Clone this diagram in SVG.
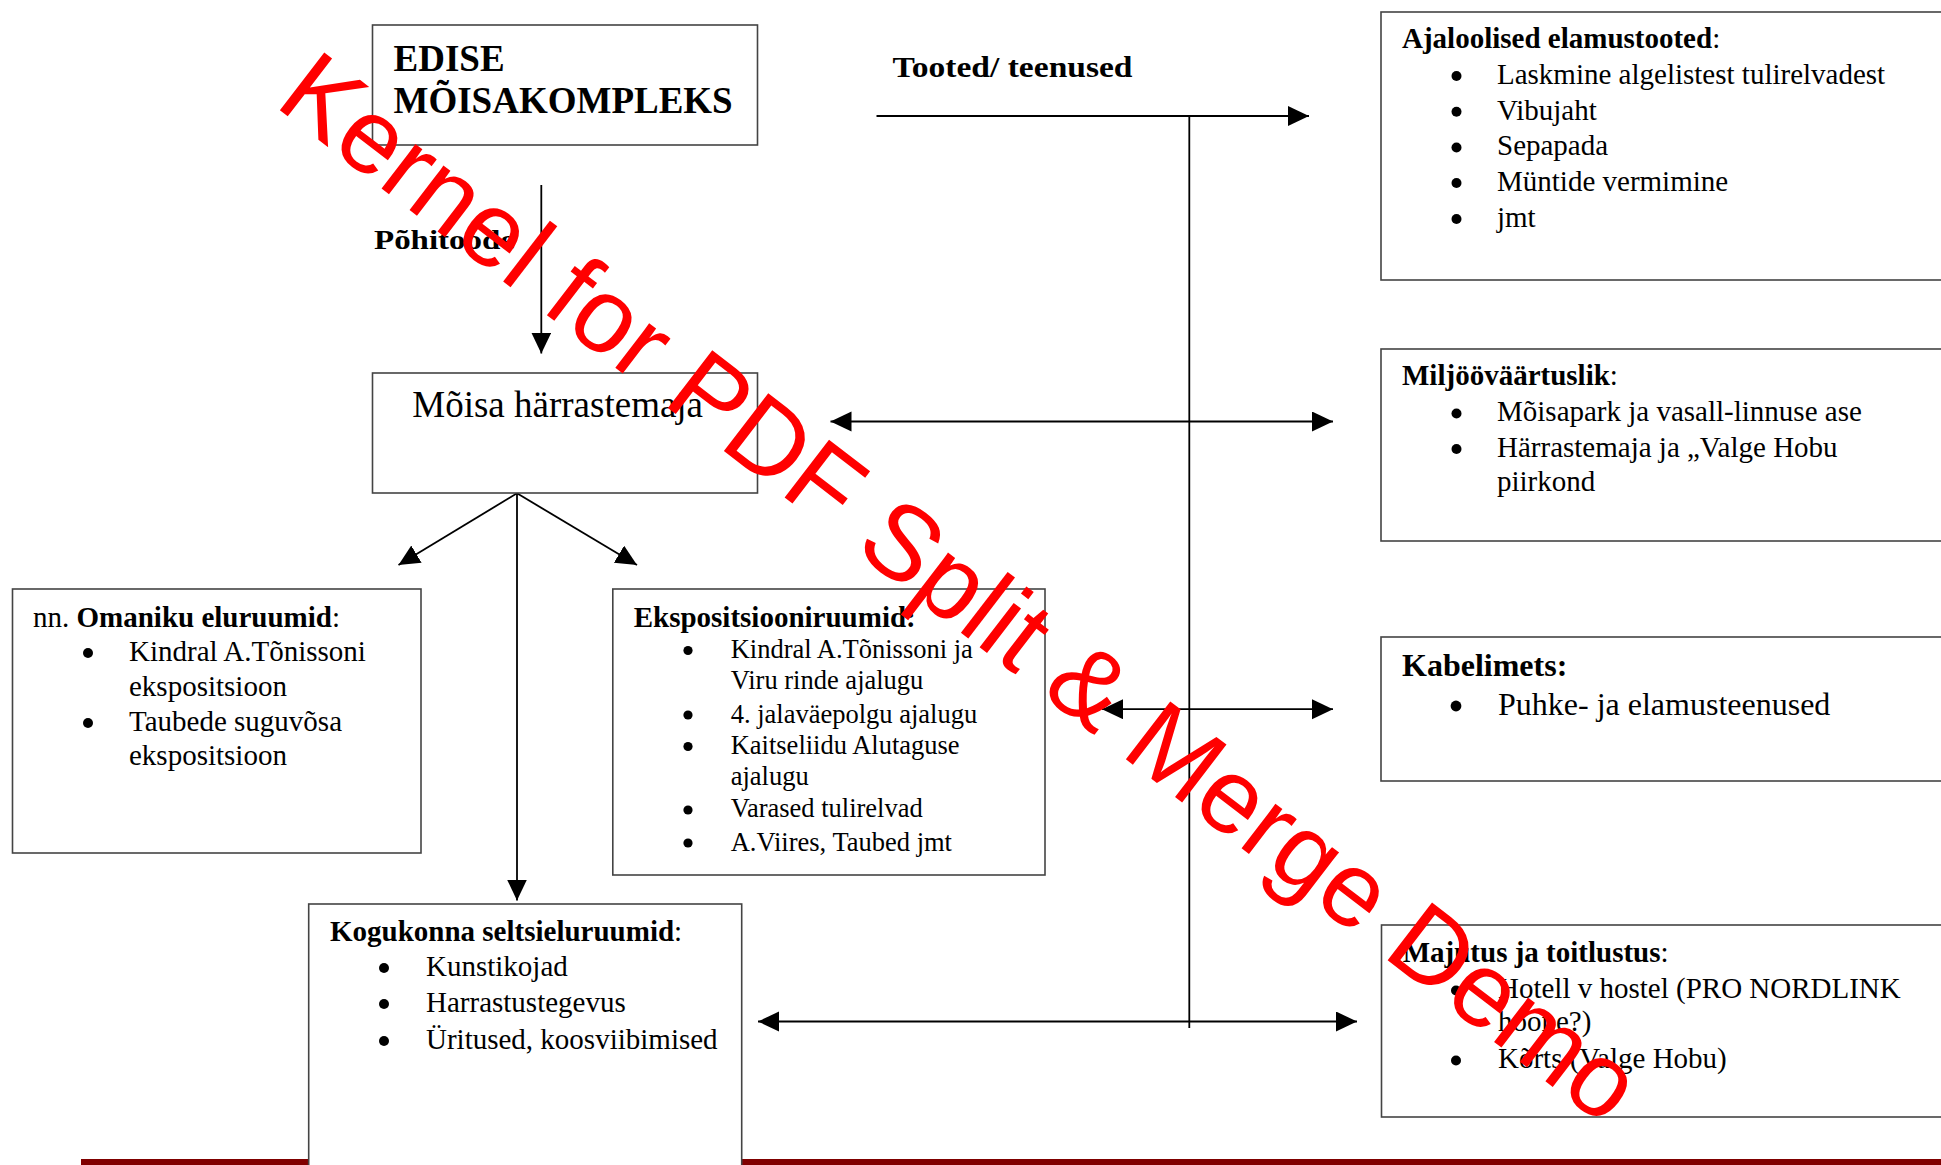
<svg xmlns="http://www.w3.org/2000/svg" width="1941" height="1165" viewBox="0 0 1941 1165">
<style>
.box{fill:#fff;stroke:#444;stroke-width:1.6}
.con{stroke:#000;stroke-width:1.8;fill:none}
.t{font-family:"Liberation Serif","Times New Roman",serif;fill:#000}
.b{font-weight:bold}
.s29{font-size:29px}
.s26{font-size:26.5px}
.s32{font-size:32px}
.bul{fill:#000}
.wm{font-family:"Liberation Sans",Arial,sans-serif;font-size:106px;fill:#ff0000}
</style>
<defs>
<marker id="ah" markerUnits="userSpaceOnUse" markerWidth="22" markerHeight="21" refX="21" refY="10" orient="auto-start-reverse" viewBox="0 0 22 21">
<path d="M0,0 L21,10 L0,20 z" fill="#000"/>
</marker>
</defs>
<rect x="0" y="0" width="1941" height="1165" fill="#fff"/>
<rect id="bottom-rule" x="81" y="1159" width="1860" height="6" fill="#800000"/>

<g id="connectors">
<line class="con" x1="541.3" y1="185" x2="541.3" y2="353.5" marker-end="url(#ah)"/>
<line class="con" x1="517" y1="493.3" x2="517" y2="900.5" marker-end="url(#ah)"/>
<line class="con" x1="517" y1="493.3" x2="398.5" y2="565" marker-end="url(#ah)"/>
<line class="con" x1="517" y1="493.3" x2="637" y2="565" marker-end="url(#ah)"/>
<line class="con" x1="876.5" y1="116" x2="1309" y2="116" marker-end="url(#ah)"/>
<line class="con" x1="1189.3" y1="116" x2="1189.3" y2="1028"/>
<line class="con" x1="830.5" y1="421.5" x2="1333" y2="421.5" marker-start="url(#ah)" marker-end="url(#ah)"/>
<line class="con" x1="1102" y1="709.2" x2="1333" y2="709.2" marker-start="url(#ah)" marker-end="url(#ah)"/>
<line class="con" x1="758" y1="1021.5" x2="1357" y2="1021.5" marker-start="url(#ah)" marker-end="url(#ah)"/>
</g>

<g id="label-tooted">
<text class="t b" x="892.5" y="76.7" font-size="29" textLength="240" lengthAdjust="spacingAndGlyphs">Tooted/ teenused</text>
</g>
<g id="label-pohitoode">
<text class="t b" x="374" y="249" font-size="28" textLength="141" lengthAdjust="spacingAndGlyphs">Põhitoode</text>
</g>

<g id="node-edise">
<rect class="box" x="372.5" y="25" width="385" height="120"/>
<text class="t b" x="393.5" y="70.7" font-size="37">EDISE</text>
<text class="t b" x="393.5" y="113.3" font-size="37">MÕISAKOMPLEKS</text>
</g>

<g id="node-moisa">
<rect class="box" x="372.5" y="373" width="385" height="120"/>
<text class="t" x="412.3" y="417.3" font-size="37">Mõisa härrastemaja</text>
</g>

<g id="node-omaniku">
<rect class="box" x="12.5" y="589" width="408.5" height="264"/>
<text class="t s29" x="33" y="626.5">nn. <tspan class="b">Omaniku eluruumid</tspan>:</text>
<circle class="bul" cx="88" cy="653" r="5"/>
<text class="t s29" x="129" y="661">Kindral A.Tõnissoni</text>
<text class="t s29" x="129" y="695.5">ekspositsioon</text>
<circle class="bul" cx="88" cy="723" r="5"/>
<text class="t s29" x="129" y="731">Taubede suguvõsa</text>
<text class="t s29" x="129" y="765">ekspositsioon</text>
</g>

<g id="node-ekspositsioon">
<rect class="box" x="612.8" y="589" width="432.2" height="286"/>
<text class="t b s29" x="633.7" y="626.5">Ekspositsiooniruumid:</text>
<circle class="bul" cx="688" cy="650.5" r="4.6"/>
<text class="t s26" x="730.7" y="658.3">Kindral A.Tõnissoni ja</text>
<text class="t s26" x="730.7" y="689.3">Viru rinde ajalugu</text>
<circle class="bul" cx="688" cy="715" r="4.6"/>
<text class="t s26" x="730.7" y="722.7">4. jalaväepolgu ajalugu</text>
<circle class="bul" cx="688" cy="746.5" r="4.6"/>
<text class="t s26" x="730.7" y="754">Kaitseliidu Alutaguse</text>
<text class="t s26" x="730.7" y="785">ajalugu</text>
<circle class="bul" cx="688" cy="810" r="4.6"/>
<text class="t s26" x="730.7" y="817.3">Varased tulirelvad</text>
<circle class="bul" cx="688" cy="843" r="4.6"/>
<text class="t s26" x="730.7" y="850.7">A.Viires, Taubed jmt</text>
</g>

<g id="node-kogukonna">
<rect class="box" x="308.7" y="904" width="433" height="300"/>
<text class="t s29" x="330" y="941"><tspan class="b">Kogukonna seltsieluruumid</tspan>:</text>
<circle class="bul" cx="384" cy="968" r="5"/>
<text class="t s29" x="426" y="975.8">Kunstikojad</text>
<circle class="bul" cx="384" cy="1004" r="5"/>
<text class="t s29" x="426" y="1012">Harrastustegevus</text>
<circle class="bul" cx="384" cy="1041" r="5"/>
<text class="t s29" x="426" y="1048.8">Üritused, koosviibimised</text>
</g>

<g id="node-ajaloolised">
<rect class="box" x="1381" y="12" width="620" height="268"/>
<text class="t s29" x="1402" y="48.2"><tspan class="b">Ajaloolised elamustooted</tspan>:</text>
<circle class="bul" cx="1456.5" cy="76" r="5"/>
<text class="t s29" x="1497" y="83.9">Laskmine algelistest tulirelvadest</text>
<circle class="bul" cx="1456.5" cy="111.7" r="5"/>
<text class="t s29" x="1497" y="119.6">Vibujaht</text>
<circle class="bul" cx="1456.5" cy="147.5" r="5"/>
<text class="t s29" x="1497" y="155.4">Sepapada</text>
<circle class="bul" cx="1456.5" cy="183" r="5"/>
<text class="t s29" x="1497" y="191">Müntide vermimine</text>
<circle class="bul" cx="1456.5" cy="219" r="5"/>
<text class="t s29" x="1497" y="226.8">jmt</text>
</g>

<g id="node-miljoo">
<rect class="box" x="1381" y="349" width="620" height="192"/>
<text class="t s29" x="1402" y="385"><tspan class="b">Miljööväärtuslik</tspan>:</text>
<circle class="bul" cx="1456.5" cy="413.5" r="5"/>
<text class="t s29" x="1497" y="421.4">Mõisapark ja vasall-linnuse ase</text>
<circle class="bul" cx="1456.5" cy="449" r="5"/>
<text class="t s29" x="1497" y="457">Härrastemaja ja „Valge Hobu</text>
<text class="t s29" x="1497" y="491">piirkond</text>
</g>

<g id="node-kabelimets">
<rect class="box" x="1381" y="637" width="620" height="144"/>
<text class="t b s32" x="1402" y="676.4">Kabelimets:</text>
<circle class="bul" cx="1456" cy="706" r="5.4"/>
<text class="t s32" x="1498" y="714.6">Puhke- ja elamusteenused</text>
</g>

<g id="node-majutus">
<rect class="box" x="1381.5" y="925" width="620" height="192"/>
<text class="t s29" x="1402.7" y="961.7"><tspan class="b">Majutus ja toitlustus</tspan>:</text>
<circle class="bul" cx="1456" cy="990.5" r="5"/>
<text class="t s29" x="1498" y="998">Hotell v hostel (PRO NORDLINK</text>
<text class="t s29" x="1498" y="1031">hoone?)</text>
<circle class="bul" cx="1456" cy="1060.5" r="5"/>
<text class="t s29" x="1498" y="1068">Kõrts (Valge Hobu)</text>
</g>

<g id="watermark">
<text class="wm" x="273" y="105" transform="rotate(37.5 273 105)">Kernel for PDF Split &amp; Merge Demo</text>
</g>
</svg>
